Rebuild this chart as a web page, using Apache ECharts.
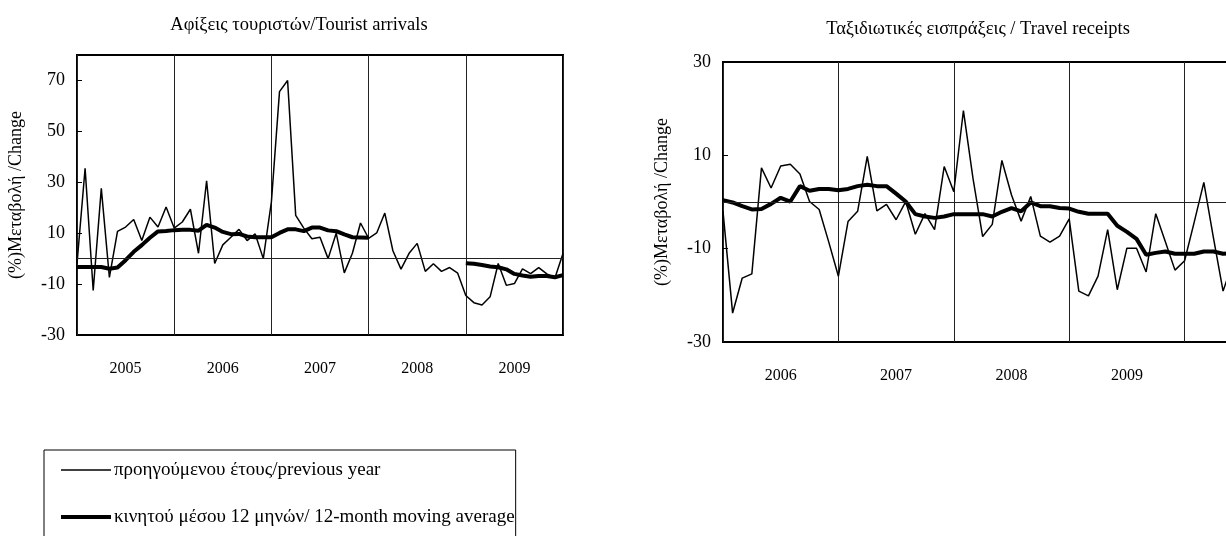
<!DOCTYPE html>
<html><head><meta charset="utf-8">
<script src="https://cdn.jsdelivr.net/npm/echarts@6/dist/echarts.min.js"></script>
<style>html,body{margin:0;padding:0;background:#fff;overflow:hidden}#c{width:1320px;height:600px}</style>
</head><body><div id="c"></div><script>
// ---- data ----
const leftYears = ['2005','2006','2007','2008','2009','2010'];
const rightYears = ['2006','2007','2008','2009','2010','2011'];
const leftTicks = [-30, -10, 10, 30, 50, 70];
const rightTicks = [-30, -10, 10, 30];

const arrivalsYoY = [-2, 35.5, -12.5, 27.6, -7.4, 10.7, 12.4, 15.4, 7.1, 16.3, 12.4, 20.3,
  12, 14.4, 19.4, 2.1, 30.6, -1.9, 5.4, 8.4, 11.5, 7.1, 9.7, 0,
  22.3, 65.6, 70, 17, 12, 7.8, 8.4, 0, 10, -5.6, 2.1, 14,
  8, 10.1, 17.9, 3.1, -4.1, 2.1, 6, -5, -2, -5, -3.5, -5.7,
  -14.5, -17.3, -18.2, -15, -1.9, -10.5, -9.8, -4, -5.9, -3.5, -6, -7.6,
  2];
const arrivalsMA = [-3.3, -3.3, -3.3, -3.3, -4, -3.5, -0.6, 2.7, 5.3, 8.2, 10.7, 10.9,
  11.2, 11.3, 11.3, 11, 13.3, 12.2, 10.5, 9.6, 9.7, 8.7, 8.4, 8.4,
  8.4, 10.1, 11.5, 11.5, 10.8, 12.2, 12.2, 11.1, 10.8, 9.5, 8.4, 8.3,
  8.2, null, null, null, null, null, null, null, null, null, null, null,
  -1.8, -2, -2.5, -3.1, -3.4, -4.2, -6, -6.6, -7.1, -6.8, -6.8, -7.3,
  -6.5];

const receiptsYoY = [-2, -23.8, -16.3, -15.4, 7.3, 3, 7.7, 8.1, 6, 0.1, -1.6, -8.6,
  -15.9, -4.2, -2, 9.8, -1.9, -0.5, -3.8, 0.1, -6.9, -2.5, -5.9, 7.6,
  2.2, 19.6, 5, -7.4, -4.8, 8.9, 1.5, -4.1, 1.2, -7.3, -8.6, -7.3,
  -3.6, -19.1, -20.1, -15.9, -5.9, -18.8, -9.9, -9.9, -15, -2.5, -8.5, -14.6,
  -12.6, -4.3, 4.2, -7.7, -19.1, -13];
const receiptsMA = [0.4, -0.1, -0.9, -1.6, -1.5, -0.4, 0.9, 0.1, 3.4, 2.4, 2.8, 2.8,
  2.5, 2.8, 3.4, 3.7, 3.4, 3.4, 1.8, 0.1, -2.6, -3.1, -3.4, -3.1,
  -2.6, -2.6, -2.6, -2.6, -3.1, -2.1, -1.3, -2, -0.1, -0.9, -0.9, -1.3,
  -1.4, -2.1, -2.5, -2.5, -2.5, -5.1, -6.4, -7.9, -11.3, -10.9, -10.6, -11.1,
  -11.1, -11.1, -10.6, -10.6, -11.1, -11];

const nameYoY = 'προηγούμενου έτους/previous year';
const nameMA = 'κινητού μέσου 12 μηνών/ 12-month moving average';
const titleLeft = 'Αφίξεις τουριστών/Tourist arrivals';
const titleRight = 'Ταξιδιωτικές εισπράξεις / Travel receipts';
const yName = '(%)Μεταβολή /Change';

function monthCats(years) {
  const out = [];
  for (let y = 0; y < 5; y++) for (let m = 1; m <= 12; m++) out.push(years[y] + '-' + (m < 10 ? '0' + m : m));
  out.push(years[5] + '-01');
  return out;
}
const leftCats = monthCats(leftYears);
const rightCats = monthCats(rightYears);

const FONT = 'Liberation Serif';

function xAxis(gridIndex, cats) {
  return {
    type: 'category', gridIndex: gridIndex, data: cats, boundaryGap: false,
    axisLine: { show: false }, axisTick: { show: false },
    axisLabel: {
      interval: (i) => i % 12 === 6, formatter: (v) => v.slice(0, 4),
      color: '#000', fontFamily: FONT, fontSize: 16, margin: 26
    },
    splitLine: { show: true, interval: (i) => i % 12 === 0, lineStyle: { color: '#222', width: 1 } }
  };
}
function yAxis(gridIndex, min, max, ticks) {
  return {
    type: 'value', gridIndex: gridIndex, min: min, max: max,
    name: yName, nameLocation: 'middle', nameGap: 52,
    nameTextStyle: { fontFamily: FONT, fontSize: 18, color: '#000' },
    axisLine: { show: false },
    axisTick: { show: true, inside: true, length: 5, customValues: ticks, lineStyle: { color: '#000' } },
    axisLabel: { customValues: ticks, color: '#000', fontFamily: FONT, fontSize: 18, margin: 12 },
    splitLine: { show: false }
  };
}
const zeroLine = {
  silent: true, symbol: ['none', 'none'], label: { show: false },
  lineStyle: { color: '#222', width: 1, type: 'solid' }, data: [{ yAxis: 0 }]
};
function line(name, data, xi, width, z, mark) {
  const s = {
    type: 'line', name: name, data: data, xAxisIndex: xi, yAxisIndex: xi,
    symbol: 'none', connectNulls: false, z: z,
    lineStyle: { color: '#000', width: width }, itemStyle: { color: '#000' }
  };
  if (mark) s.markLine = zeroLine;
  return s;
}

const chart = echarts.init(document.getElementById('c'), null, { renderer: 'canvas' });
chart.setOption({
  animation: false,
  backgroundColor: '#fff',
  title: [
    { text: titleLeft, left: 294, top: 11, textAlign: 'center',
      textStyle: { fontFamily: FONT, fontSize: 18.5, fontWeight: 'normal', color: '#000' } },
    { text: titleRight, left: 973, top: 15, textAlign: 'center',
      textStyle: { fontFamily: FONT, fontSize: 18.5, fontWeight: 'normal', color: '#000' } }
  ],
  legend: {
    orient: 'vertical', left: 44, top: 450,
    data: [
      { name: nameYoY, lineStyle: { width: 1.5, color: '#000' } },
      { name: nameMA, lineStyle: { width: 4, color: '#000' } }
    ],
    itemStyle: { opacity: 0 },
    borderColor: '#000', borderWidth: 1, padding: [9, 1, 60, 15],
    itemWidth: 50, itemHeight: 14, itemGap: 25,
    textStyle: { fontFamily: FONT, fontSize: 19, lineHeight: 22, color: '#000', padding: [0, 0, 0, -2] }
  },
  grid: [
    { left: 77, top: 55, width: 486, height: 280, show: true, borderColor: '#000', borderWidth: 2 },
    { left: 723, top: 62, width: 577, height: 280, show: true, borderColor: '#000', borderWidth: 2 }
  ],
  xAxis: [xAxis(0, leftCats), xAxis(1, rightCats)],
  yAxis: [yAxis(0, -30, 80, leftTicks), yAxis(1, -30, 30, rightTicks)],
  series: [
    line(nameYoY, arrivalsYoY, 0, 1.5, 3, true),
    line(nameMA, arrivalsMA, 0, 4, 4, false),
    line(nameYoY, receiptsYoY, 1, 1.5, 3, true),
    line(nameMA, receiptsMA, 1, 4, 4, false)
  ]
});
</script></body></html>
